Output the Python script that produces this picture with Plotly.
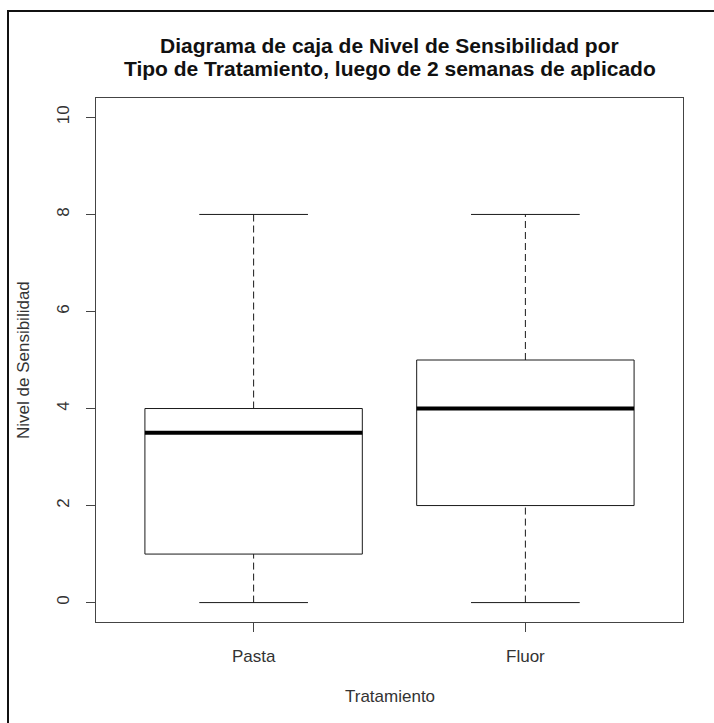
import plotly.graph_objects as go

# Five-number summaries of sensitivity level per treatment
categories = ["Pasta", "Fluor"]
positions = [1, 2]
lower_whisker = [0, 0]
q1 = [1, 2]
median = [3.5, 4]
q3 = [4, 5]
upper_whisker = [8, 8]
y_ticks = [0, 2, 4, 6, 8, 10]

title_lines = ["Diagrama de caja de Nivel de Sensibilidad por",
               "Tipo de Tratamiento, luego de 2 semanas de aplicado"]

BOX_HALF = 0.4
CAP_HALF = 0.2
FONT = "Liberation Sans, Arial, sans-serif"
INK = "#1a1a1a"

fig = go.Figure()

for p, lo, a, m, b, hi in zip(positions, lower_whisker, q1, median, q3, upper_whisker):
    # dashed whiskers
    for y0, y1 in ((b, hi), (lo, a)):
        fig.add_trace(go.Scatter(x=[p, p], y=[y0, y1], mode="lines",
                                 line=dict(color=INK, width=1, dash="7px,4px"),
                                 hoverinfo="skip", showlegend=False))
    # whisker caps
    for yv in (lo, hi):
        fig.add_trace(go.Scatter(x=[p - CAP_HALF, p + CAP_HALF], y=[yv, yv], mode="lines",
                                 line=dict(color=INK, width=1),
                                 hoverinfo="skip", showlegend=False))
    # box
    fig.add_trace(go.Scatter(x=[p - BOX_HALF, p + BOX_HALF, p + BOX_HALF, p - BOX_HALF, p - BOX_HALF],
                             y=[a, a, b, b, a], mode="lines",
                             line=dict(color=INK, width=1),
                             hoverinfo="skip", showlegend=False))
    # median
    fig.add_trace(go.Scatter(x=[p - BOX_HALF, p + BOX_HALF], y=[m, m], mode="lines",
                             line=dict(color="#000000", width=4),
                             hoverinfo="skip", showlegend=False))

W, H = 714, 723
L, R, T, B = 96, 31, 98, 101
pw, ph = W - L - R, H - T - B


def px_x(x):
    return (x - L) / pw


def px_y(y):
    return (H - B - y) / ph


axis_common = dict(showline=True, mirror=True, linecolor="#444444", linewidth=1,
                   showgrid=False, zeroline=False, ticks="outside", ticklen=9,
                   tickcolor="#444444", tickwidth=1,
                   tickfont=dict(family=FONT, size=17, color="#333333"))

annotations = [
    dict(text=f"<b>{line}</b>", x=0.5, y=px_y(yc), xref="paper", yref="paper",
         xanchor="center", yanchor="middle", showarrow=False,
         font=dict(family=FONT, size=21, color="#111111"))
    for line, yc in zip(title_lines, (46, 69))
]
annotations += [
    dict(text="Tratamiento", x=0.5, y=px_y(696), xref="paper", yref="paper",
         xanchor="center", yanchor="middle", showarrow=False,
         font=dict(family=FONT, size=17, color="#333333")),
    dict(text="Nivel de Sensibilidad", x=px_x(23), y=0.5, xref="paper", yref="paper",
         xanchor="center", yanchor="middle", textangle=-90, showarrow=False,
         font=dict(family=FONT, size=17, color="#333333")),
]

fig.update_layout(
    width=W, height=H,
    margin=dict(l=L, r=R, t=T, b=B),
    paper_bgcolor="white", plot_bgcolor="white",
    xaxis=dict(range=[0.42, 2.58], tickvals=positions, ticktext=categories,
               ticklabelstandoff=10, **axis_common),
    yaxis=dict(range=[-0.4, 10.4], tickvals=y_ticks, tickangle=-90,
               ticklabelstandoff=10, **axis_common),
    annotations=annotations,
    shapes=[
        dict(type="rect", xref="paper", yref="paper",
             x0=px_x(8), x1=px_x(W + 20), y0=px_y(11), y1=px_y(H + 20),
             line=dict(color="#111111", width=2), fillcolor="rgba(0,0,0,0)", layer="below"),
    ],
)

fig.write_html("out.html")
